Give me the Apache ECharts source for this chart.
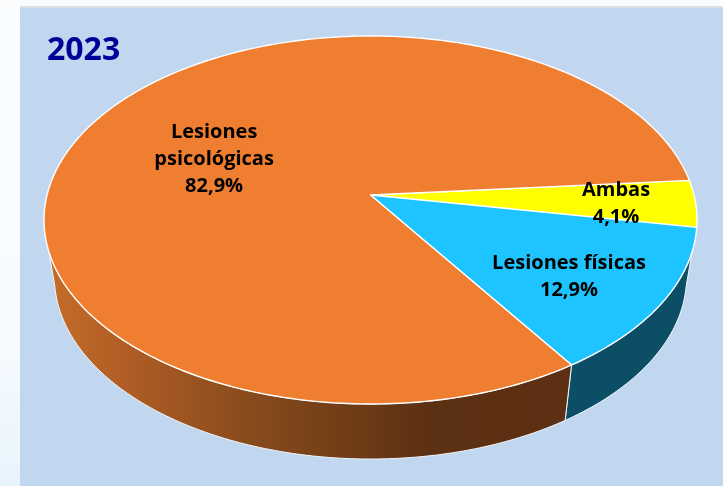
<!DOCTYPE html>
<html lang="es">

<head>
    <meta charset="utf-8">
    <title>2023</title>
    <style>
        html, body { margin: 0; padding: 0; background: #fafdff; }
        #chart { width: 723px; height: 486px; }
    </style>
</head>

<body>
    <div id="chart"></div>

    <script src="https://cdn.jsdelivr.net/npm/echarts@6/dist/echarts.min.js"></script>
    <script type="text/javascript">
        // data
        var categories = ['Ambas', 'Lesiones físicas', 'Lesiones psicológicas'];
        var labelLines = ['Ambas', 'Lesiones físicas', 'Lesiones\npsicológicas'];
        var values = [4.1, 12.9, 82.9];
        var topColors = ['#ffff00', '#1ec4ff', '#f07e30'];

        // 3D look of the pie, all in axis units (ellipse of the top face = unit circle)
        var APEX_SHIFT = 0.136;   // perspective: where the pie centre lands above the ellipse centre
        var START_DEG = -4.7;     // real angle where the first slice starts
        var BOTTOM = { cy: 0.31, rx: 0.968, ry: 0.989 };
        var SIDE_TOP = [10, 170];   // where the wall leaves the top rim
        var SIDE_BOTTOM = [3, 177]; // where it reaches the bottom rim

        var total = values.reduce(function (a, b) { return a + b; }, 0);

        // real angle on the disc -> point on the tilted top ellipse
        function project(deg) {
            var r = deg * Math.PI / 180;
            var x = Math.cos(r), y = Math.sin(r);
            var k = 1 - APEX_SHIFT * y;
            return [x * Math.sqrt(1 - APEX_SHIFT * APEX_SHIFT) / k, (y - APEX_SHIFT) / k];
        }

        function rimAngle(deg) {
            var p = project(deg);
            var t = Math.atan2(p[1], p[0]) * 180 / Math.PI;
            if (deg > 90 && t < 0) t += 360;
            return t;
        }

        function sliceRange(i) {
            var before = 0;
            for (var j = 0; j < i; j++) before += values[j];
            return [START_DEG + before / total * 360, START_DEG + (before + values[i]) / total * 360];
        }

        function topPoint(t) {
            var r = t * Math.PI / 180;
            return [Math.cos(r), Math.sin(r)];
        }

        function bottomPoint(t) {
            var r = t * Math.PI / 180;
            return [BOTTOM.rx * Math.cos(r), BOTTOM.cy + BOTTOM.ry * Math.sin(r)];
        }

        function arc(from, to, fn, api) {
            var pts = [];
            var n = Math.max(2, Math.ceil(Math.abs(to - from)));
            for (var i = 0; i <= n; i++) {
                pts.push(api.coord(fn(from + (to - from) * i / n)));
            }
            return pts;
        }

        function renderWall(params, api) {
            var range = sliceRange(params.dataIndex);
            var t0 = rimAngle(range[0]), t1 = rimAngle(range[1]);
            if (t1 <= SIDE_TOP[0] || t0 >= SIDE_TOP[1]) return;
            var top0 = Math.max(t0, SIDE_TOP[0]), top1 = Math.min(t1, SIDE_TOP[1]);
            var bot0 = t0 < SIDE_TOP[0] ? SIDE_BOTTOM[0] : t0;
            var bot1 = t1 > SIDE_TOP[1] ? SIDE_BOTTOM[1] : t1;
            var points = arc(top0, top1, topPoint, api).concat(arc(bot1, bot0, bottomPoint, api));
            var fill = params.dataIndex === 1 ? '#0c4e66' : new echarts.graphic.LinearGradient(0, 0, 1, 0, [
                { offset: 0, color: '#c56c29' },
                { offset: 0.16, color: '#ad5c24' },
                { offset: 0.4, color: '#864a1c' },
                { offset: 0.73, color: '#5c3012' },
                { offset: 1, color: '#5e3013' }
            ]);
            return {
                type: 'polygon',
                shape: { points: points },
                style: { fill: fill, stroke: '#f2f7fb', lineWidth: 1 }
            };
        }

        function renderTop(params, api) {
            var range = sliceRange(params.dataIndex);
            var points = [api.coord([0, -APEX_SHIFT])];
            var n = Math.ceil(range[1] - range[0]);
            for (var i = 0; i <= n; i++) {
                points.push(api.coord(project(range[0] + (range[1] - range[0]) * i / n)));
            }
            return {
                type: 'polygon',
                shape: { points: points },
                style: { fill: topColors[params.dataIndex], stroke: '#ffffff', lineWidth: 1.4, lineJoin: 'round' }
            };
        }

        var myChart = echarts.init(document.getElementById('chart'));
        var option = {
            animation: false,
            backgroundColor: '#fafdff',
            title: {
                text: '2023',
                left: 47,
                top: 31,
                padding: 0,
                textStyle: { color: '#000099', fontFamily: 'Open Sans', fontWeight: 'bold', fontSize: 32, lineHeight: 40 }
            },
            graphic: [
                {
                    type: 'rect', z: -2,
                    shape: { x: 0, y: 0, width: 20, height: 486 },
                    style: {
                        fill: new echarts.graphic.LinearGradient(0, 0, 0, 1, [
                            { offset: 0, color: '#fbfdff' },
                            { offset: 0.7, color: '#f7fbff' },
                            { offset: 1, color: '#e8f4fc' }
                        ])
                    }
                },
                { type: 'rect', z: -1, shape: { x: 20, y: 6, width: 703, height: 2 }, style: { fill: '#dcdfe2' } },
                { type: 'rect', z: -1, shape: { x: 20, y: 8, width: 703, height: 478 }, style: { fill: '#c0d7ef' } }
            ],
            grid: { left: 44, right: 26, top: 36, bottom: 82 },
            xAxis: { type: 'value', min: -1, max: 1, show: false },
            yAxis: { type: 'value', min: -1, max: 1, inverse: true, show: false },
            series: [
                {
                    name: 'wall',
                    type: 'custom',
                    coordinateSystem: 'cartesian2d',
                    clip: false,
                    renderItem: renderWall,
                    data: values.map(function (v, i) { return [i, v]; })
                },
                {
                    name: 'top',
                    type: 'custom',
                    coordinateSystem: 'cartesian2d',
                    clip: false,
                    renderItem: renderTop,
                    data: values.map(function (v, i) { return [i, v]; })
                },
                {
                    name: 'labels',
                    type: 'scatter',
                    symbolSize: 0,
                    silent: true,
                    z: 5,
                    itemStyle: { opacity: 1 },
                    data: [
                        { value: [0.752, -0.09], name: categories[0] },
                        { value: [0.608, 0.307], name: categories[1] },
                        { value: [-0.479, -0.33], name: categories[2] }
                    ],
                    label: {
                        show: true,
                        position: 'inside',
                        color: '#000000',
                        opacity: 1,
                        fontFamily: 'Open Sans',
                        fontWeight: 'bold',
                        fontSize: 20,
                        lineHeight: 27,
                        align: 'center',
                        verticalAlign: 'middle',
                        formatter: function (p) {
                            return labelLines[p.dataIndex] + '\n' + values[p.dataIndex].toFixed(1).replace('.', ',') + '%';
                        }
                    }
                }
            ]
        };
        myChart.setOption(option);
    </script>
</body>

</html>
